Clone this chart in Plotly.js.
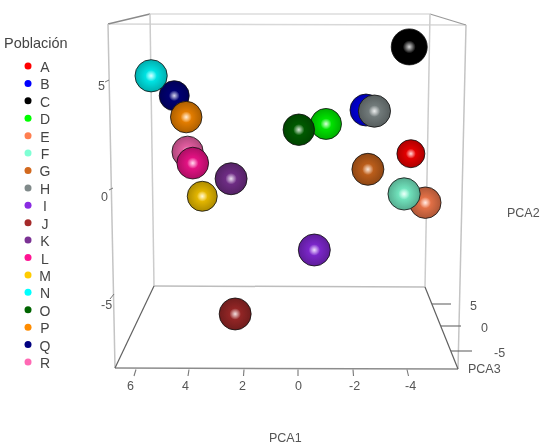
<!DOCTYPE html>
<html><head><meta charset="utf-8">
<script src="https://cdn.plot.ly/plotly-3.0.1.min.js"></script>
<style>html,body{margin:0;padding:0;background:#fff;overflow:hidden}#c{width:556px;height:447px;filter:blur(0.45px)}</style>
</head><body><div id="c"></div>
<script>
const W = 556, H = 447;
// Data
const poblaciones = ['A','B','C','D','E','F','G','H','I','J','K','L','M','N','O','P','Q','R'];
const pca1 = [-4.15,-2.50,-4.09,-1.03,-4.68,-3.90,-2.57,-2.81,-0.60,2.31,2.46,3.87,3.52,5.40,-0.03,4.11,4.55,4.06];
const pca2 = [1.65,3.69,6.64,3.04,-0.64,-0.23,0.92,3.64,-2.85,-5.84,0.48,1.21,-0.34,5.29,2.77,3.36,4.36,1.74];
const pca3 = [-8,0,8,-2,-1,0.5,0,0.5,0,0,0,-0.5,-4,0.5,-1,-1,-4,-1.5];
const colores = ['#ff0000','#0000ff','#000000','#00ff00','#ff7f50','#7fffd4','#d2691e','#808a8a','#8a2be2','#a52a2a','#7b3294','#ff1493','#ffcc00','#00ffff','#006400','#ff8c00','#000080','#ff69b4'];
const ticksPCA1 = [6,4,2,0,-2,-4];
const ticksPCA2 = [5,0,-5];
const ticksPCA3 = [5,0,-5];

const px = x => x / W, py = y => 1 - y / H;
function shade(hex, k) {
  const n = parseInt(hex.slice(1), 16);
  return 'rgb(' + [(n>>16)&255,(n>>8)&255,n&255].map(v => Math.round(v*k)).join(',') + ')';
}
const traces = [];
poblaciones.map((p,i)=>i).sort((a,b)=>pca3[a]-pca3[b]).forEach(i => {
  const d = 32 + 0.5*pca3[i];
  traces.push({type:'scatter',mode:'markers',x:[pca1[i]],y:[pca2[i]],hoverinfo:'skip',showlegend:false,
    marker:{size:d,color:shade(colores[i],0.68),gradient:{type:'radial',color:shade(colores[i],1)},
      line:{color:'rgba(15,15,15,0.8)',width:1}}});
  traces.push({type:'scatter',mode:'markers',x:[pca1[i]],y:[pca2[i]],hoverinfo:'skip',showlegend:false,
    marker:{size:d*0.36,color:'rgba(255,255,255,0)',gradient:{type:'radial',color:'rgba(255,255,255,0.85)'},line:{width:0}}});
});
// Legend drawn on its own small category axes
traces.push({type:'scatter',mode:'markers',xaxis:'x2',yaxis:'y2',cliponaxis:false,hoverinfo:'skip',showlegend:false,
  x:poblaciones.map(()=>0.467),y:poblaciones,marker:{size:7,color:colores}});
traces.push({type:'scatter',mode:'text',xaxis:'x3',yaxis:'y3',cliponaxis:false,hoverinfo:'skip',showlegend:false,
  x:poblaciones.map(()=>0.75),y:poblaciones,text:poblaciones,textposition:'middle center',
  textfont:{family:'Liberation Sans, Arial',size:14,color:'#444444'}});

const seg = (x0,y0,x1,y1,c,w) => ({type:'line',xref:'paper',yref:'paper',x0:px(x0),y0:py(y0),x1:px(x1),y1:py(y1),line:{color:c,width:w||1.3},layer:'below'});
const shapes = [
  seg(150,14,430,14,'#dcdcdc',1.5), seg(108,24,466,25,'#d8d8d8',1.5),
  seg(108,24,150,14,'#8a8a8a',1.3), seg(430,14,466,25,'#9a9a9a',1.3),
  seg(108,24,115,368,'#c4c4c4',1.5), seg(150,14,154,286,'#cccccc',1.5),
  seg(430,14,425,287,'#cccccc',1.5), seg(466,25,458,369,'#c4c4c4',1.5),
  seg(154,286,425,287,'#bdbdbd',1.5), seg(115,368,458,369,'#8c8c8c',1.5),
  seg(115,368,154,286,'#606060',1.2), seg(458,369,425,287,'#606060',1.2),
  // PCA1 ticks
  ...[[136,134],[189,188],[244,243.5],[298,298],[353,353.5],[407,408.5]].map(t=>seg(t[0],369.5,t[1],376,'#777',1.1)),
  // PCA2 ticks
  seg(105,82,109,80,'#777',1), seg(109,190,113,188,'#777',1), seg(110,299,114,294,'#777',1),
  // PCA3 ticks
  seg(432,304,451,304,'#666',1.1), seg(441,326,461,326,'#666',1.1), seg(451,351,472,351,'#666',1.1)
];
const label = (t,x,y,size,color) => ({text:String(t),xref:'paper',yref:'paper',x:px(x),y:py(y),xanchor:'center',yanchor:'middle',showarrow:false,
  font:{family:'Liberation Sans, Arial',size:size||12.5,color:color||'#555'}});
const pos1 = [130,186,242,298,354,410];
const pos2 = [[101,86],[104,197],[106,305]];
const pos3 = [[473,306],[484,328],[499,353]];
const annotations = [
  ...ticksPCA1.map((t,i)=>label(t,pos1[i],386)),
  ...ticksPCA2.map((t,i)=>label(t,pos2[i][0],pos2[i][1])),
  ...ticksPCA3.map((t,i)=>label(t,pos3[i][0],pos3[i][1])),
  label('PCA1',285,438), label('PCA2',523,213), label('PCA3',484,369),
  label('Población',36,43,14.5,'#444444')
];
const hidden = {visible:false,fixedrange:true};
const catAxis = {...hidden,type:'category',range:[17.5,-0.5],categoryorder:'array',categoryarray:poblaciones};
Plotly.newPlot('c',traces,{
  width:W,height:H,margin:{l:0,r:0,t:0,b:0},paper_bgcolor:'#fff',plot_bgcolor:'rgba(0,0,0,0)',showlegend:false,
  xaxis:{...hidden,domain:[0,1],range:[298/27.2,(298-W)/27.2]},
  yaxis:{...hidden,domain:[0,1],range:[(189-H)/21.4,189/21.4]},
  xaxis2:{...hidden,domain:[0,60/W],range:[0,1],anchor:'y2'},
  yaxis2:{...catAxis,anchor:'x2',domain:[py(370.7),py(57.3)]},
  xaxis3:{...hidden,domain:[0,60/W],range:[0,1],anchor:'y3'},
  yaxis3:{...catAxis,anchor:'x3',domain:[py(373.2),py(59.8)]},
  shapes,annotations
},{displayModeBar:false,staticPlot:true});
</script></body></html>
